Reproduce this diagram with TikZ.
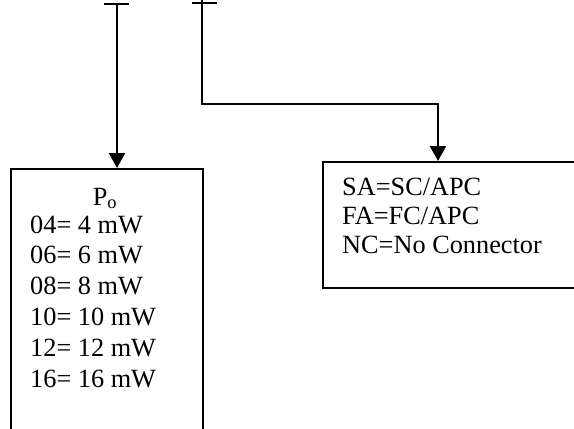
\documentclass[tikz,border=0pt]{standalone}
\usepackage{fontspec}
\setmainfont{Liberation Serif}
\usetikzlibrary{arrows.meta}
\tikzset{>={Triangle[length=15pt,width=16pt]}}
\tikzstyle{wire}=[line width=2.3pt]
\tikzstyle{box}=[draw,line width=2.3pt,rectangle,anchor=north west,inner sep=0pt]
\tikzstyle{txt}=[anchor=base west,inner sep=0pt,font=\fontsize{26.3}{31}\selectfont]
\def\tick#1{\draw[wire] (#1)++(-12.5,0) --++ (25,0)}

\begin{document}
\begin{tikzpicture}[x=1pt,y=-1pt]
  \useasboundingbox (0,0) rectangle (574,429);
  \clip (0,0) rectangle (574,429);

  % BOXES
  \node[box,minimum width=192pt,minimum height=300pt] (pbox) at (10,168) {};
  \node[box,minimum width=300pt,minimum height=126pt] (cbox) at (322,161) {};

  % PINS
  \coordinate (pin1) at (117,4);
  \coordinate (pin2) at (202,-2);
  \coordinate (turn) at (438,104);
  \tick{116,4};
  \tick{204,3};

  % CONNECTORS
  \draw[wire,->] (pin1) -- (pin1 |- pbox.north);
  \draw[wire,->] (pin2) |- (turn) -- (turn |- cbox.north);

  % TEXT
  \node[txt,anchor=base] (po) at (105,205) {P\textsubscript{o}};
  \foreach \c/\p [count=\i] in {04/4,06/6,08/8,10/10,12/12,16/16}
    \node[txt] (pw\c) at (30,{233+30.8*(\i-1)}) {\c= \p\ mW};
  \foreach \s [count=\i] in {{SA=SC/APC},{FA=FC/APC},{NC=No Connector}}
    \node[txt] (conn\i) at (342,{195+29*(\i-1)}) {\s};

\end{tikzpicture}
\end{document}
